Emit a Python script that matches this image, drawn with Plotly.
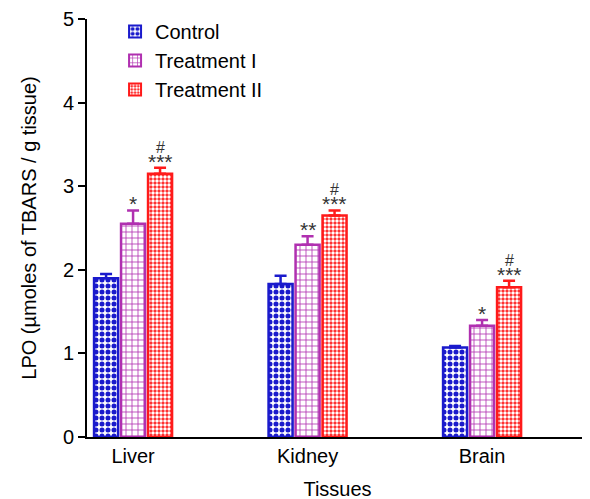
import plotly.graph_objects as go

tissues = ["Liver", "Kidney", "Brain"]
series_names = ["Control", "Treatment I", "Treatment II"]
control = [1.90, 1.83, 1.07]
treat1 = [2.55, 2.30, 1.33]
treat2 = [3.15, 2.65, 1.79]
control_err = [0.05, 0.10, 0.02]
treat1_err = [0.16, 0.10, 0.07]
treat2_err = [0.07, 0.06, 0.08]
treat1_marks = ["*", "**", "*"]
treat2_marks = ["***", "***", "***"]
treat2_hash = ["#", "#", "#"]

colors = ["#1a1acc", "#b030b0", "#ff1a1a"]
patterns = [
    dict(shape=".", fgcolor="#1a1acc", bgcolor="white", size=6, solidity=0.55, fillmode="replace"),
    dict(shape="+", fgcolor="#b030b0", bgcolor="white", size=6, solidity=0.25, fillmode="replace"),
    dict(shape=".", fgcolor="white", bgcolor="#ff1a1a", size=4, solidity=0.6, fillmode="replace"),
]
values = [control, treat1, treat2]
errs = [control_err, treat1_err, treat2_err]

FONT = "Liberation Sans, Arial, sans-serif"

fig = go.Figure()
for name, v, e, c, p in zip(series_names, values, errs, colors, patterns):
    fig.add_trace(go.Bar(
        x=tissues, y=v, name=name,
        marker=dict(color="white", pattern=p, line=dict(color=c, width=2.5)),
        error_y=dict(type="data", symmetric=False, array=e, arrayminus=[0] * len(e),
                     color=c, thickness=2.5, width=6),
    ))

bargap = 0.536
slot = (1 - bargap) / 3
annots = []
star_font = dict(family=FONT, size=21, color="#333333")
hash_font = dict(family=FONT, size=16, color="#333333")
for i in range(len(tissues)):
    annots.append(dict(x=i, y=treat1[i] + treat1_err[i], xref="x", yref="y",
                       text=treat1_marks[i], showarrow=False, yanchor="top",
                       yshift=20, font=star_font))
    annots.append(dict(x=i + slot, y=treat2[i] + treat2_err[i], xref="x", yref="y",
                       text=treat2_marks[i], showarrow=False, yanchor="top",
                       yshift=20, font=star_font))
    annots.append(dict(x=i + slot, y=treat2[i] + treat2_err[i], xref="x", yref="y",
                       text=treat2_hash[i], showarrow=False, yanchor="bottom",
                       yshift=10, font=hash_font))

fig.update_layout(
    width=590, height=499,
    margin=dict(l=79, r=10, t=11, b=70, autoexpand=False),
    paper_bgcolor="white", plot_bgcolor="white",
    barmode="group", bargap=bargap, bargroupgap=0.11,
    font=dict(family=FONT, color="black", size=20),
    showlegend=True,
    legend=dict(x=0.056, y=1.017, xanchor="left", yanchor="top", bgcolor="rgba(0,0,0,0)",
                font=dict(size=20), tracegroupgap=0, itemsizing="constant"),
    annotations=annots,
    xaxis=dict(range=[-0.264, 2.607], showline=True, linecolor="black", linewidth=2,
               ticks="", showgrid=False, tickfont=dict(size=20), automargin=False,
               title=dict(text="Tissues", font=dict(size=20), standoff=16)),
    yaxis=dict(range=[0, 5], dtick=1, showline=True, linecolor="black", linewidth=2,
               ticks="outside", ticklen=7, tickwidth=2, tickcolor="black",
               showgrid=False, zeroline=False, tickfont=dict(size=20), automargin=False,
               title=dict(text="LPO (µmoles of TBARS / g tissue)", font=dict(size=20), standoff=21)),
)

fig.write_html("out.html")
